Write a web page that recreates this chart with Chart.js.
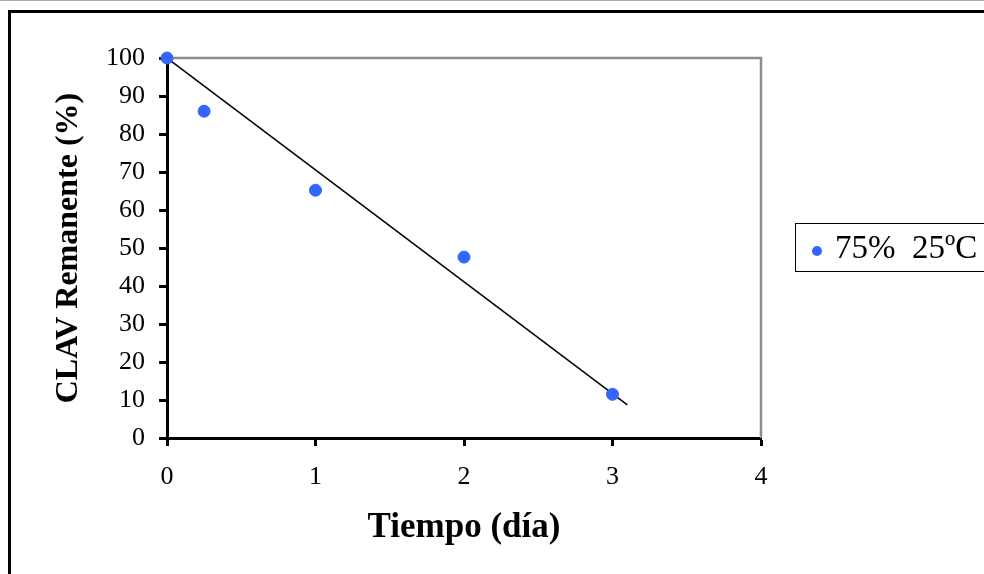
<!DOCTYPE html>
<html>
<head>
<meta charset="utf-8">
<script src="https://cdn.jsdelivr.net/npm/chart.js@4/dist/chart.umd.min.js"></script>
<style>
  html, body { margin: 0; padding: 0; background: #fff; }
  #wrap { width: 984px; height: 574px; position: relative; }
</style>
</head>
<body>
<div id="wrap"><canvas id="myChart" width="984" height="574"></canvas></div>
<script>
const seriesLabel = '75%  25ºC';
const days = [0, 0.25, 1, 2, 3];
const remaining = [100, 86, 65.2, 47.6, 11.5];
const trendDays = [0, 3.1];
const trendValues = [100, 8.7];
const xTicks = [0, 1, 2, 3, 4];
const yTicks = [0, 10, 20, 30, 40, 50, 60, 70, 80, 90, 100];

const serif = "'Liberation Serif', 'Times New Roman', serif";
const blue = '#3366ff';

function toPoints(xs, ys) {
  return xs.map(function(x, i) { return { x: x, y: ys[i] }; });
}

// page frame, plot border and the boxed legend
const framePlugin = {
  id: 'frame',
  beforeDraw(chart) {
    const ctx = chart.ctx;
    ctx.save();
    ctx.fillStyle = '#fff';
    ctx.fillRect(0, 0, chart.width, chart.height);
    ctx.strokeStyle = '#aaa';
    ctx.lineWidth = 1;
    ctx.beginPath();
    ctx.moveTo(0, 0.5);
    ctx.lineTo(chart.width, 0.5);
    ctx.stroke();
    ctx.strokeStyle = '#000';
    ctx.lineWidth = 3;
    ctx.strokeRect(9.5, 11.5, 2000, 2000);
    ctx.restore();
  },
  beforeDatasetsDraw(chart) {
    const ctx = chart.ctx;
    const a = chart.chartArea;
    ctx.save();
    ctx.strokeStyle = '#8c8c8c';
    ctx.lineWidth = 2.5;
    ctx.beginPath();
    ctx.moveTo(a.left, a.top);
    ctx.lineTo(a.right, a.top);
    ctx.lineTo(a.right, a.bottom);
    ctx.stroke();
    ctx.restore();
  },
  afterDraw(chart) {
    const ctx = chart.ctx;
    const ds = chart.data.datasets[0];
    ctx.save();
    ctx.strokeStyle = '#000';
    ctx.lineWidth = 1;
    ctx.strokeRect(795.5, 223.5, 300, 48);
    ctx.fillStyle = ds.backgroundColor;
    ctx.beginPath();
    ctx.arc(817, 251, 5, 0, Math.PI * 2);
    ctx.fill();
    ctx.fillStyle = '#000';
    ctx.font = '33px ' + serif;
    ctx.textBaseline = 'middle';
    ctx.textAlign = 'left';
    ctx.fillText(ds.label, 835, 249);
    ctx.restore();
  }
};

const ctx = document.getElementById('myChart').getContext('2d');

const chart = new Chart(ctx, {
  type: 'scatter',
  data: {
    datasets: [{
      label: seriesLabel,
      data: toPoints(days, remaining),
      backgroundColor: blue,
      borderColor: blue,
      pointRadius: 6,
      pointHoverRadius: 6,
      clip: false,
    },
    {
      label: 'trend',
      data: toPoints(trendDays, trendValues),
      showLine: true,
      borderColor: '#000',
      borderWidth: 1.5,
      pointRadius: 0,
      fill: false,
    }]
  },
  options: {
    responsive: false,
    animation: false,
    layout: { padding: { left: 0, top: 58, right: 223, bottom: 0 } },
    plugins: {
      legend: { display: false },
      tooltip: { enabled: false },
    },
    scales: {
      x: {
        type: 'linear',
        min: 0,
        max: 4,
        afterBuildTicks(scale) {
          scale.ticks = xTicks.map(function(v) { return { value: v }; });
        },
        afterFit(scale) { scale.height = 136; },
        grid: {
          display: true,
          drawOnChartArea: false,
          drawTicks: true,
          tickLength: 8,
          tickWidth: 3,
          color: '#000',
        },
        border: { display: true, color: '#000', width: 3 },
        ticks: {
          padding: 16,
          color: '#000',
          font: { family: serif, size: 26 },
        },
        title: {
          display: true,
          text: 'Tiempo (día)',
          color: '#000',
          font: { family: serif, size: 35, weight: 'bold' },
          padding: { top: 0, bottom: 25 },
        },
      },
      y: {
        type: 'linear',
        min: 0,
        max: 100,
        afterBuildTicks(scale) {
          scale.ticks = yTicks.map(function(v) { return { value: v }; });
        },
        afterFit(scale) { scale.width = 167; },
        grid: {
          display: true,
          drawOnChartArea: false,
          drawTicks: true,
          tickLength: 8,
          tickWidth: 3,
          color: '#000',
        },
        border: { display: true, color: '#000', width: 3 },
        ticks: {
          padding: 14,
          color: '#000',
          font: { family: serif, size: 26 },
        },
        title: {
          display: true,
          text: 'CLAV Remanente (%)',
          color: '#000',
          font: { family: serif, size: 32, weight: 'bold' },
          padding: { top: 50, bottom: 0 },
        },
      },
    },
  },
  plugins: [framePlugin],
});
</script>
</body>
</html>
